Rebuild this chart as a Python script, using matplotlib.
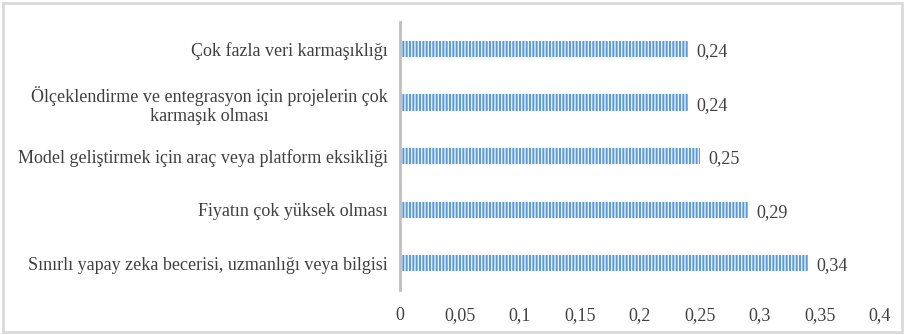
import matplotlib
matplotlib.use("Agg")
import matplotlib.pyplot as plt
from matplotlib.patches import Rectangle

categories = [
    "Çok fazla veri karmaşıklığı",
    "Ölçeklendirme ve entegrasyon için projelerin çok\nkarmaşık olması",
    "Model geliştirmek için araç veya platform eksikliği",
    "Fiyatın çok yüksek olması",
    "Sınırlı yapay zeka becerisi, uzmanlığı veya bilgisi",
]
values = [0.24, 0.24, 0.25, 0.29, 0.34]
xticks = [0, 0.05, 0.1, 0.15, 0.2, 0.25, 0.3, 0.35, 0.4]
xtick_labels = ["0", "0,05", "0,1", "0,15", "0,2", "0,25", "0,3", "0,35", "0,4"]

plt.rcParams['font.family'] = ['Liberation Serif', 'DejaVu Serif']
plt.rcParams['hatch.linewidth'] = 1.0
plt.rcParams['hatch.color'] = '#E8F1FA'

text_color = '#404040'
fig = plt.figure(figsize=(9.05, 3.35), dpi=100)
ax = fig.add_axes([0.442, 0.134, 0.530, 0.800])

n = len(categories)
ypos = list(range(n - 1, -1, -1))
ax.barh(ypos, values, height=0.3, color='#5B9BD5', edgecolor='#E8F1FA',
        linewidth=0, hatch='|||||')

for y, v in zip(ypos, values):
    ax.text(v + 0.007, y - 0.05, f"{v:.2f}".replace('.', ','), va='center', ha='left',
            fontsize=13, color=text_color)

ax.set_yticks(ypos)
ax.set_yticklabels(categories, fontsize=13, color=text_color, multialignment='center',
                   linespacing=1.12)
ax.set_xticks(xticks)
ax.set_xticklabels(xtick_labels, fontsize=13, color=text_color)
ax.set_xlim(0, 0.4)
ax.set_ylim(-0.5, n - 0.5)
ax.tick_params(axis='both', length=0)
ax.tick_params(axis='y', pad=9)
ax.tick_params(axis='x', pad=12)

for s in ['top', 'right', 'bottom']:
    ax.spines[s].set_visible(False)
ax.spines['left'].set_color('#BFBFBF')
ax.spines['left'].set_linewidth(2)

fig.patches.append(Rectangle((0.003, 0.008), 0.994, 0.984, transform=fig.transFigure,
                             fill=False, edgecolor='#D9D9D9', linewidth=2))

fig.savefig("out.png", dpi=100, facecolor='white')
